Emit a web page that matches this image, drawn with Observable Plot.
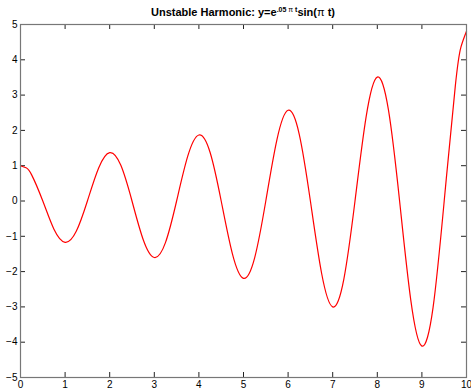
<!DOCTYPE html>
<html><head><meta charset="utf-8">
<script src="https://cdn.jsdelivr.net/npm/d3@7"></script>
<script src="https://cdn.jsdelivr.net/npm/@observablehq/plot@0.6"></script>
<style>body{margin:0;background:#fff;} svg{display:block;}</style>
</head><body><div id="chart"></div>
<script>
const tValues = [0,0.125,0.25,0.5,0.75,1,1.25,1.5,1.75,2,2.25,2.5,2.75,3,3.25,3.5,3.75,4,4.25,4.5,4.75,5,5.25,5.5,5.75,6,6.25,6.5,6.75,7,7.25,7.5,7.75,8,8.25,8.5,8.75,9,9.25,9.5,9.75,9.875,10];
const yValues = [1.00,0.94,0.74,0,-0.80,-1.17,-0.86,0,0.93,1.37,1.01,0,-1.09,-1.60,-1.18,0,1.27,1.87,1.38,0,-1.49,-2.19,-1.61,0,1.74,2.57,1.89,0,-2.04,-3.00,-2.21,0,2.39,3.51,2.58,0,-2.80,-4.11,-3.02,0,3.27,4.36,4.81];
const xTicks = [0,1,2,3,4,5,6,7,8,9,10];
const yTicks = [-5,-4,-3,-2,-1,0,1,2,3,4,5];

const W = 471, H = 389, mL = 20, mR = 5, mT = 24, mB = 12;
const pw = W - mL - mR, ph = H - mT - mB;
const data = tValues.map((t, i) => ({t, y: yValues[i]}));

const chart = Plot.plot({
  width: W, height: H,
  marginLeft: mL, marginRight: mR, marginTop: mT, marginBottom: mB,
  style: {fontFamily: "'Liberation Sans', Arial, sans-serif", fontSize: "10px", background: "#fff", color: "#000"},
  x: {domain: [0, 10], label: null},
  y: {domain: [-5, 5], label: null},
  marks: [
    Plot.axisX(xTicks, {tickSize: 0, tickPadding: 3, fontSize: 10, fill: "#000", label: null}),
    Plot.axisY(yTicks, {tickSize: 0, tickPadding: 3, fontSize: 10, fill: "#000", label: null}),
    Plot.tickX(xTicks, {x: d => d, insetTop: ph - 5, stroke: "#222"}),
    Plot.tickX(xTicks, {x: d => d, insetBottom: ph - 5, stroke: "#222"}),
    Plot.tickY(yTicks, {y: d => d, insetRight: pw - 5, stroke: "#222"}),
    Plot.tickY(yTicks, {y: d => d, insetLeft: pw - 5, stroke: "#222"}),
    Plot.line(data, {x: "t", y: "y", stroke: "#ff0000", strokeWidth: 1.2, curve: "natural"}),
    Plot.frame({stroke: "#777", strokeWidth: 1.2})
  ]
});

const svg = d3.select(chart);
const title = svg.append("text")
  .attr("x", 243).attr("y", 16)
  .attr("text-anchor", "middle")
  .attr("font-family", "'Liberation Sans', Arial, sans-serif")
  .attr("font-weight", "bold")
  .attr("font-size", 11)
  .attr("fill", "#000");
title.append("tspan").text("Unstable Harmonic: y=e");
title.append("tspan").attr("font-size", 7).attr("dy", -4).text(".05 ");
title.append("tspan").attr("font-size", 7).attr("font-weight", "normal").text("π");
title.append("tspan").attr("font-size", 7).text(" t");
title.append("tspan").attr("dy", 4).text("sin(");
title.append("tspan").attr("font-weight", "normal").text("π");
title.append("tspan").text(" t)");

document.getElementById("chart").appendChild(chart);
</script>
</body></html>
